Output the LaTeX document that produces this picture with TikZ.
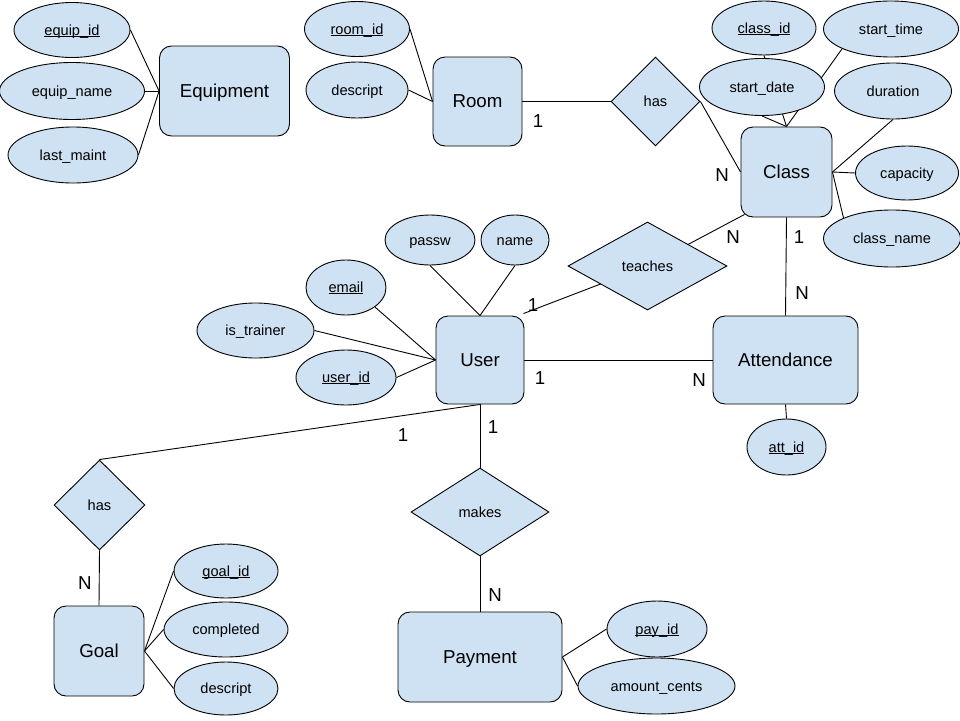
\documentclass[tikz,border=0pt]{standalone}
\usepackage{fontspec}
\setmainfont{Liberation Sans}
\usetikzlibrary{shapes.geometric,backgrounds,calc}
\definecolor{erfill}{HTML}{CFE2F3}
% key attributes: thin rule just under the baseline
\newcommand\keyattr[1]{\setbox0\hbox{#1}\rlap{\rule[-1.8pt]{\wd0}{0.9pt}}\box0}

\begin{document}
\begin{tikzpicture}[x=1pt,y=-1pt,
  entity/.style={draw, fill=erfill, rounded corners=12pt, line width=0.9pt, inner sep=0pt,
    font=\fontsize{18.7}{22}\selectfont, text height=16.9pt, text depth=4pt},
  attr/.style={draw, fill=erfill, ellipse, line width=0.9pt, inner sep=0pt,
    font=\fontsize{14.6}{17}\selectfont, text height=13.2pt, text depth=3.1pt},
  rel/.style={draw, fill=erfill, diamond, line width=0.9pt, inner sep=0pt,
    font=\fontsize{14.6}{17}\selectfont, text height=13.2pt, text depth=3.1pt},
  card/.style={inner sep=0pt, font=\fontsize{18.7}{22}\selectfont},
  link/.style={line width=0.9pt}]
\useasboundingbox (0,0) rectangle (960,720);

% entities
\node[entity, minimum width=130pt, minimum height=90pt] (equip)   at (224.5,91)  {Equipment};
\node[entity, minimum width=89pt,  minimum height=89pt] (room)    at (477.5,101.5) {Room};
\node[entity, minimum width=91pt,  minimum height=90pt] (class)   at (786.5,172) {Class};
\node[entity, minimum width=88pt,  minimum height=88pt] (user)    at (480,360)   {User};
\node[entity, minimum width=145pt, minimum height=88pt] (attend)  at (785.5,360) {Attendance};
\node[entity, minimum width=90pt,  minimum height=90pt] (goal)    at (99,651)    {Goal};
\node[entity, minimum width=164pt, minimum height=90pt] (payment) at (480,657)   {Payment};

% relationships
\node[rel, minimum width=89pt,  minimum height=89pt] (hasroom) at (655.5,101.5) {has};
\node[rel, minimum width=159pt, minimum height=88pt] (teaches) at (647.5,266)   {teaches};
\node[rel, minimum width=91pt,  minimum height=90pt] (hasgoal) at (99.5,505)    {has};
\node[rel, minimum width=138pt, minimum height=88pt] (makes)   at (480,512)     {makes};

% attributes
\node[attr, minimum width=116pt, minimum height=55pt] (equipid)   at (72,30)    {\keyattr{equip\_id}};
\node[attr, minimum width=145pt, minimum height=57pt] (equipname) at (72,91)    {equip\_name};
\node[attr, minimum width=130pt, minimum height=56pt] (lastmaint) at (73,155)   {last\_maint};
\node[attr, minimum width=105pt, minimum height=55pt] (roomid)    at (357,29)   {\keyattr{room\_id}};
\node[attr, minimum width=102pt, minimum height=56pt] (roomdesc)  at (357,90)   {descript};
\node[attr, minimum width=104pt, minimum height=54pt] (classid)   at (764,28)   {\keyattr{class\_id}};
\node[attr, minimum width=135pt, minimum height=56pt] (starttime) at (891,29)   {start\_time};
\node[attr, minimum width=125pt, minimum height=57pt] (startdate) at (762,87)   {start\_date};
\node[attr, minimum width=117pt, minimum height=56pt] (duration)  at (893,91)   {duration};
\node[attr, minimum width=103pt, minimum height=54pt] (capacity)  at (907,173)  {capacity};
\node[attr, minimum width=137pt, minimum height=57pt] (classname) at (892,238.5) {class\_name};
\node[attr, minimum width=90pt,  minimum height=50pt] (passw)     at (430,240)  {passw};
\node[attr, minimum width=68pt,  minimum height=50pt] (uname)     at (515,240)  {name};
\node[attr, minimum width=80pt,  minimum height=55pt] (email)     at (346,287.5) {\keyattr{email}};
\node[attr, minimum width=117pt, minimum height=55pt] (istrainer) at (255.5,330.5) {is\_trainer};
\node[attr, minimum width=100pt, minimum height=55pt] (userid)    at (346,377.5) {\keyattr{user\_id}};
\node[attr, minimum width=79pt,  minimum height=56pt] (attid)     at (786.5,447) {\keyattr{att\_id}};
\node[attr, minimum width=104pt, minimum height=54pt] (goalid)    at (226,571)  {\keyattr{goal\_id}};
\node[attr, minimum width=124pt, minimum height=55pt] (completed) at (226,629.5) {completed};
\node[attr, minimum width=104pt, minimum height=53pt] (goaldesc)  at (226,688.5) {descript};
\node[attr, minimum width=100pt, minimum height=56pt] (payid)     at (657,629)  {\keyattr{pay\_id}};
\node[attr, minimum width=157pt, minimum height=56pt] (amount)    at (656.5,686) {amount\_cents};

% cardinalities
\node[card] (cRoom)     at (538,121) {1};
\node[card] (cClassHas) at (722,175) {N};
\node[card] (cUserT)    at (533,305) {1};
\node[card] (cClassT)   at (733,237) {N};
\node[card] (cClassA)   at (799,237) {1};
\node[card] (cAttC)     at (802,293) {N};
\node[card] (cUserA)    at (540,378) {1};
\node[card] (cAttU)     at (699,380) {N};
\node[card] (cUserG)    at (403,435) {1};
\node[card] (cUserM)    at (493,427) {1};
\node[card] (cPay)      at (495,595) {N};
\node[card] (cGoal)     at (85,583)  {N};

% connectors, kept behind the shapes
\begin{pgfonlayer}{background}
\fill[white] (0,0) rectangle (960,720);
\draw[link] (equipid.east) -- (equip.west);
\draw[link] (equipname) -- (equip.west);
\draw[link] (lastmaint.east) -- (equip.west);
\draw[link] (roomid.east) -- (room.west);
\draw[link] (roomdesc.east) -- (room.west);
\draw[link] (room.east) -- (hasroom.west);
\draw[link] (hasroom.east) -- (class.west);
\draw[link] (classid.south) -- (class.north);
\draw[link] (startdate.south) -- (class.north);
\draw[link] (starttime.202) -- (class.north);
\draw[link] (duration.south) -- (class.east);
\draw[link] (capacity.west) -- (class.east);
\draw[link] (classname.157) -- (class.east);
\draw[link] ($(user.north east)+(-1,-2)$) -- (teaches.center) -- ($(class.south west)+(4,-3)$);
\draw[link] (class.south) -- (attend.north);
\draw[link] (attend.south) -- (attid.north);
\draw[link] (user.east) -- (attend.west);
\draw[link] (passw.south) -- (user.north);
\draw[link] (uname.south) -- (user.north);
\draw[link] (email.326) -- (user.west);
\draw[link] (istrainer.east) -- (user.west);
\draw[link] (userid.east) -- (user.west);
\draw[link] (user.south) -- (hasgoal.north);
\draw[link] (hasgoal.south) -- (goal.north);
\draw[link] (goalid.west) -- (goal.east);
\draw[link] (completed.west) -- (goal.east);
\draw[link] (goaldesc.west) -- (goal.east);
\draw[link] (user.south) -- (makes.north);
\draw[link] (makes.south) -- (payment.north);
\draw[link] (payid.west) -- (payment.east);
\draw[link] (amount.west) -- (payment.east);
\end{pgfonlayer}
\end{tikzpicture}
\end{document}
